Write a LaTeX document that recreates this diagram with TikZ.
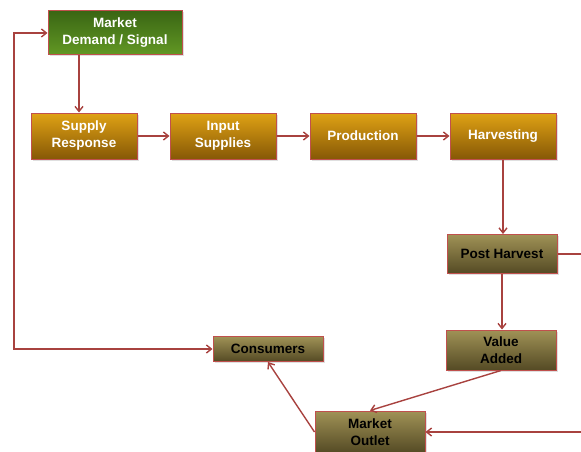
\documentclass[tikz,border=0pt]{standalone}
\usepackage{fontspec}
\setmainfont{Liberation Sans}
\usetikzlibrary{arrows.meta,shadows}

\definecolor{edgered}{RGB}{192,80,77}
\definecolor{linkred}{RGB}{168,66,63}
\definecolor{greentop}{RGB}{58,102,20}
\definecolor{greenbot}{RGB}{98,152,36}
\definecolor{orangetop}{RGB}{224,162,20}
\definecolor{orangebot}{RGB}{134,88,6}
\definecolor{olivetop}{RGB}{160,146,86}
\definecolor{olivebot}{RGB}{84,74,36}

\begin{document}
\begin{tikzpicture}[x=1pt,y=-1pt,
        box/.style={draw=edgered,line width=1pt,align=center,inner sep=1pt,
            font=\fontsize{13.5}{17}\selectfont\bfseries,
            drop shadow={opacity=0.25,shadow xshift=1.5pt,shadow yshift=-1.5pt}},
        greenbox/.style={box,top color=greentop,bottom color=greenbot,text=white},
        orangebox/.style={box,top color=orangetop,bottom color=orangebot,text=white},
        olivebox/.style={box,top color=olivetop,bottom color=olivebot,text=black},
        link/.style={draw=linkred,line width=1.4pt,-{Straight Barb[length=5pt,width=8pt]}}]
        \def\xmax{581} \def\ymax{452}
        \useasboundingbox (0,0) rectangle (\xmax,\ymax);
        \clip (0,0) rectangle (\xmax,\ymax);

        % top row
        \node (demand) at (115,33) [greenbox,minimum width=134pt,minimum height=44pt] {Market\\Demand / Signal};
        \node (supply) at (84,136) [orangebox,minimum width=106pt,minimum height=46pt] {Supply\\Response};
        \node (input) at (223,136) [orangebox,minimum width=106pt,minimum height=46pt] {Input\\Supplies};
        \node (prod) at (363,136) [orangebox,minimum width=106pt,minimum height=46pt] {Production};
        \node (harv) at (503,136) [orangebox,minimum width=106pt,minimum height=46pt] {Harvesting};

        % lower part
        \node (post) at (502,254) [olivebox,minimum width=110pt,minimum height=39pt] {Post Harvest};
        \node (value) at (501,350) [olivebox,minimum width=110pt,minimum height=40pt] {Value\\Added};
        \node (cons) at (268,349) [olivebox,minimum width=110pt,minimum height=25pt] {Consumers};
        \node (outlet) at (370,432) [olivebox,minimum width=110pt,minimum height=42pt] {Market\\Outlet};

        \draw[link] ([xshift=-36pt]demand.south) -- ([xshift=-36pt]demand.south |- supply.north);
        \draw[link] (supply) -- (input);
        \draw[link] (input) -- (prod);
        \draw[link] (prod) -- (harv);
        \draw[link] (harv.south) -- (harv.south |- post.north);
        \draw[link] (post.south) -- (post.south |- value.north);
        \draw[link] (post.east) -- (600,254) |- (outlet.east);
        \draw[link] (value.south) -- (outlet.north);
        \draw[link] (outlet.west) -- (cons.south);
        \draw[link,{Straight Barb[length=5pt,width=8pt]}-{Straight Barb[length=5pt,width=8pt]}]
        (cons.west) -- (14,349) |- (demand.west);
\end{tikzpicture}
\end{document}
